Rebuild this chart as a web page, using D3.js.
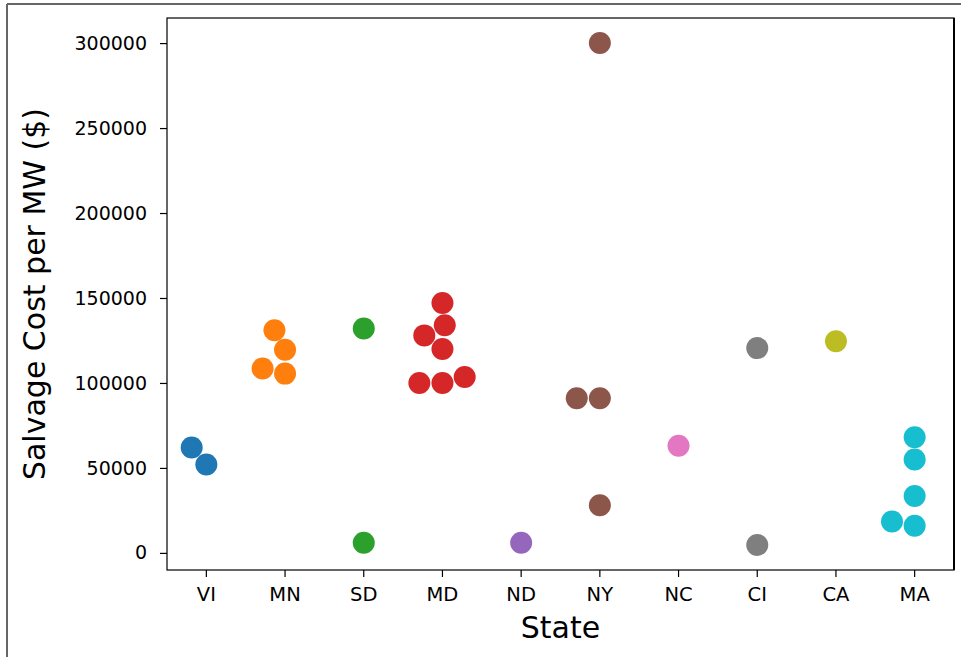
<!DOCTYPE html>
<html>
<head>
<meta charset="utf-8">
<script src="https://cdn.jsdelivr.net/npm/d3@7"></script>
<style>
  html, body { margin: 0; padding: 0; background: #fff; }
  svg { display: block; }
  text { font-family: "DejaVu Sans", sans-serif; fill: #000; }
</style>
</head>
<body>
<svg id="chart" width="961" height="657"></svg>
<script>
// Categories and their colours (tab10)
const states = ["VI", "MN", "SD", "MD", "ND", "NY", "NC", "CI", "CA", "MA"];
const colors = ["#1f77b4", "#ff7f0e", "#2ca02c", "#d62728", "#9467bd",
                "#8c564b", "#e377c2", "#7f7f7f", "#bcbd22", "#17becf"];

// Salvage cost per MW ($), one list per state
const costVI = [62000, 52000];
const costMN = [131000, 119500, 108500, 105500];
const costSD = [132000, 6000];
const costMD = [147000, 134000, 128000, 120000, 103500, 100000, 100000];
const costND = [6000];
const costNY = [300000, 91000, 91000, 28000];
const costNC = [63000];
const costCI = [120500, 4700];
const costCA = [124500];
const costMA = [68000, 55000, 33500, 18500, 16000];

const yTicks = [0, 50000, 100000, 150000, 200000, 250000, 300000];
const xTitle = "State";
const yTitle = "Salvage Cost per MW ($)";

const costs = [costVI, costMN, costSD, costMD, costND, costNY, costNC, costCI, costCA, costMA];

// Plot frame
const L = 167, R = 954, T = 18, B = 570;
const dotR = 11;
// figure origin (bottom-left, inside the outer frame) for the swarm layout
const FX = 8, FY = 657;

const svg = d3.select("#chart");

// frame around the figure
svg.append("line").attr("x1", 7).attr("x2", 961).attr("y1", 4).attr("y2", 4)
  .attr("stroke", "#666").attr("stroke-width", 2);
svg.append("line").attr("x1", 7).attr("x2", 7).attr("y1", 4).attr("y2", 657)
  .attr("stroke", "#666").attr("stroke-width", 2);

const x = d3.scaleBand().domain(states).range([L, R]).padding(0);
const allVals = costs.flat();
const [vmin, vmax] = d3.extent(allVals);
const pad = (vmax - vmin) * 0.05;
const y = d3.scaleLinear().domain([vmin - pad, vmax + pad]).range([B, T]);

// Beeswarm layout in figure pixel coordinates (x right, y up),
// following seaborn's swarmplot procedure
function swarm(points, r) {
  const pts = points.map(p => ({ ...p, fx: p.px - FX, fy: FY - p.py }))
    .sort((a, b) => a.fy - b.fy);
  const mid = pts[0].fx;
  const placed = [{ ...pts[0], x: mid, y: pts[0].fy }];
  for (let i = 1; i < pts.length; i++) {
    const p = pts[i];
    const yi = p.fy;
    const nb = [];
    for (let j = placed.length - 1; j >= 0; j--) {
      if (yi - placed[j].y < 2 * r) nb.unshift(placed[j]); else break;
    }
    const cands = [p.fx];
    let leftFirst = true;
    nb.forEach(n => {
      const dy = yi - n.y;
      const dx = Math.sqrt(Math.max(4 * r * r - dy * dy, 0)) * 1.05;
      const cl = n.x - dx, cr = n.x + dx;
      if (leftFirst) cands.push(cl, cr); else cands.push(cr, cl);
      leftFirst = !leftFirst;
    });
    const order = cands.map((c, k) => ({ c, off: Math.abs(c - mid), k }))
      .sort((a, b) => (a.off - b.off) || (a.k - b.k));
    let chosen = order[0].c;
    for (const o of order) {
      const ok = nb.every(n => {
        const dx = n.x - o.c, dy = n.y - yi;
        return dx * dx + dy * dy >= 4 * r * r;
      });
      if (ok) { chosen = o.c; break; }
    }
    placed.push({ ...p, x: chosen, y: yi });
  }
  return placed.map(d => ({ ...d, sx: d.x + FX, sy: FY - d.y }));
}

const dots = [];
states.forEach((s, i) => {
  const cx = x(s) + x.bandwidth() / 2;
  const pts = costs[i].map(v => ({ state: s, value: v, px: cx, py: y(v), color: colors[i] }));
  swarm(pts, dotR).forEach(d => dots.push(d));
});

// Axes
const yAxis = d3.axisLeft(y).tickValues(yTicks).tickFormat(d3.format("d"))
  .tickSize(7).tickPadding(13);
const gy = svg.append("g").attr("transform", `translate(${L},0)`).call(yAxis);
gy.select(".domain").remove();
gy.selectAll(".tick line").attr("stroke", "#000").attr("stroke-width", 1.2);
gy.selectAll(".tick text").style("font-size", "19px").style("font-family", "DejaVu Sans");

const xAxis = d3.axisBottom(x).tickSize(7).tickPadding(10);
const gx = svg.append("g").attr("transform", `translate(0,${B})`).call(xAxis);
gx.select(".domain").remove();
gx.selectAll(".tick line").attr("stroke", "#000").attr("stroke-width", 1.2);
gx.selectAll(".tick text").style("font-size", "19.5px").style("font-family", "DejaVu Sans");

// Points
svg.append("g").selectAll("circle").data(dots).join("circle")
  .attr("cx", d => d.sx).attr("cy", d => d.sy).attr("r", dotR)
  .attr("fill", d => d.color);

// Spines
svg.append("rect").attr("x", L).attr("y", T).attr("width", R - L).attr("height", B - T)
  .attr("fill", "none").attr("stroke", "#000").attr("stroke-width", 1.2);
svg.append("line").attr("x1", R).attr("x2", R).attr("y1", T).attr("y2", B)
  .attr("stroke", "#000").attr("stroke-width", 2);

// Axis titles
svg.append("text").attr("x", (L + R) / 2).attr("y", 638)
  .attr("text-anchor", "middle").style("font-size", "30px").text(xTitle);
svg.append("text").attr("transform", `translate(45,${(T + B) / 2}) rotate(-90)`)
  .attr("text-anchor", "middle").style("font-size", "30px").text(yTitle);
</script>
</body>
</html>
